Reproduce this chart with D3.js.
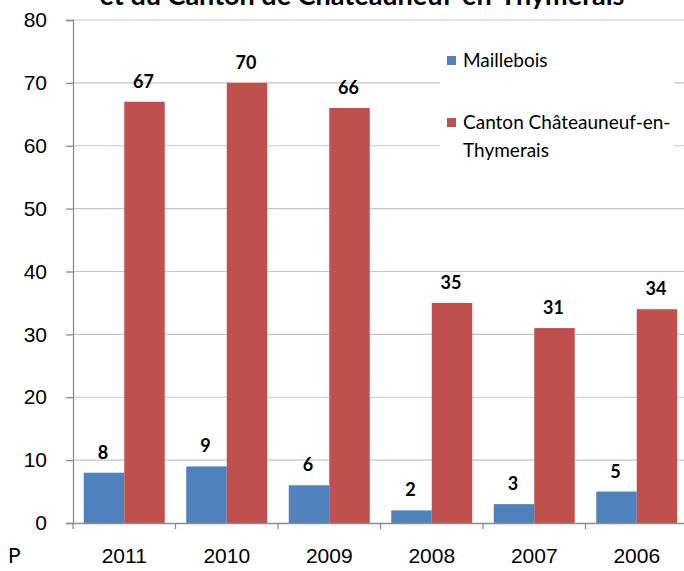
<!DOCTYPE html>
<html>
<head>
<meta charset="utf-8">
<script src="https://cdn.jsdelivr.net/npm/d3@7"></script>
<style>
  body { margin: 0; background: #fff; }
  svg { display: block; font-family: Lato, "Open Sans", sans-serif; }
</style>
</head>
<body>
<div id="chart"></div>
<script>
const years = ["2011", "2010", "2009", "2008", "2007", "2006"];
const seriesNames = ["Maillebois", "Canton Châteauneuf-en-Thymerais"];
const maillebois = [8, 9, 6, 2, 3, 5];
const canton = [67, 70, 66, 35, 31, 34];
const yTicks = [0, 10, 20, 30, 40, 50, 60, 70, 80];

const width = 684, height = 571;
const colors = ["#4F81BD", "#C0504D"];

const svg = d3.select("#chart")
  .append("svg")
    .attr("width", width)
    .attr("height", height);

// Scales
const xScale = d3.scaleBand()
  .domain(years)
  .range([73, 688])
  .paddingInner(0.21)
  .paddingOuter(0.105);

const xSub = d3.scaleBand()
  .domain([0, 1])
  .range([0, xScale.bandwidth()]);

const yScale = d3.scaleLinear()
  .domain([0, 80])
  .range([523, 20]);

// Title (cut off at top, as in the source)
svg.append("text")
  .text("et du Canton de Châteauneuf-en-Thymerais")
  .attr("x", 362)
  .attr("y", 5)
  .attr("text-anchor", "middle")
  .style("font-weight", "bold")
  .style("font-size", "27px")
  .attr("fill", "#000");

// Gridlines
svg.append("g")
  .selectAll("line")
  .data(yTicks.filter(d => d > 0))
  .join("line")
    .attr("x1", 73)
    .attr("x2", width)
    .attr("y1", d => yScale(d))
    .attr("y2", d => yScale(d))
    .attr("stroke", "#c6c6c6")
    .attr("stroke-width", 1.2);

// Left axis
const leftAxis = d3.axisLeft(yScale)
  .tickValues(yTicks)
  .tickSize(7)
  .tickPadding(19);
const gy = svg.append("g")
  .attr("transform", "translate(73, 0)")
  .call(leftAxis);
gy.select(".domain").attr("stroke", "#8c8c8c").attr("stroke-width", 1.3);
gy.selectAll(".tick line").attr("stroke", "#8c8c8c").attr("stroke-width", 1.3);
gy.selectAll(".tick text")
  .style("font-size", "21px")
  .attr("fill", "#000");

// Bars
const groups = svg.append("g")
  .selectAll("g")
  .data(years)
  .join("g")
    .attr("transform", d => `translate(${xScale(d)}, 0)`);

groups.selectAll("rect")
  .data((d, i) => [maillebois[i], canton[i]])
  .join("rect")
    .attr("x", (d, j) => xSub(j))
    .attr("y", d => yScale(d))
    .attr("width", xSub.bandwidth())
    .attr("height", d => yScale(0) - yScale(d))
    .attr("fill", (d, j) => colors[j]);

groups.selectAll(".val")
  .data((d, i) => [maillebois[i], canton[i]])
  .join("text")
    .attr("class", "val")
    .text(d => d)
    .attr("x", (d, j) => xSub(j) + xSub.bandwidth() / 2 - 1)
    .attr("y", d => yScale(d) - 14)
    .attr("text-anchor", "middle")
    .style("font-weight", "bold")
    .style("font-size", "18px")
    .attr("fill", "#000");

// Bottom axis
const bottomAxis = d3.axisBottom(xScale)
  .tickSize(0)
  .tickPadding(25);
const gx = svg.append("g")
  .attr("transform", `translate(0, ${yScale(0)})`)
  .call(bottomAxis);
gx.select(".domain").attr("stroke", "#8c8c8c").attr("stroke-width", 1.3);
gx.selectAll(".tick text")
  .style("font-size", "21px")
  .attr("fill", "#000");

// Category separators
svg.append("g")
  .selectAll("line")
  .data(years)
  .join("line")
    .attr("x1", d => xScale(d) - xScale.step() * 0.105)
    .attr("x2", d => xScale(d) - xScale.step() * 0.105)
    .attr("y1", yScale(0))
    .attr("y2", yScale(0) + 6)
    .attr("stroke", "#8c8c8c")
    .attr("stroke-width", 1.3);

svg.append("text")
  .text("P")
  .attr("x", 8)
  .attr("y", 563)
  .style("font-size", "21px")
  .attr("fill", "#000");

// Legend
const legend = svg.append("g");
legend.append("rect")
  .attr("x", 440)
  .attr("y", 36)
  .attr("width", 234)
  .attr("height", 136)
  .attr("fill", "#fff");

const legendRows = [
  { lines: ["Maillebois"], y: 60 },
  { lines: ["Canton Châteauneuf-en-", "Thymerais"], y: 122 }
];
legendRows.forEach((row, i) => {
  legend.append("rect")
    .attr("x", 447)
    .attr("y", row.y - 4)
    .attr("width", 9)
    .attr("height", 9)
    .attr("fill", colors[i]);
  const t = legend.append("text")
    .attr("x", 463)
    .attr("y", row.y + 7)
    .style("font-size", "19px")
    .attr("fill", "#000");
  row.lines.forEach((l, k) => {
    t.append("tspan")
      .attr("x", 463)
      .attr("dy", k === 0 ? 0 : 28)
      .text(l);
  });
});
</script>
</body>
</html>
